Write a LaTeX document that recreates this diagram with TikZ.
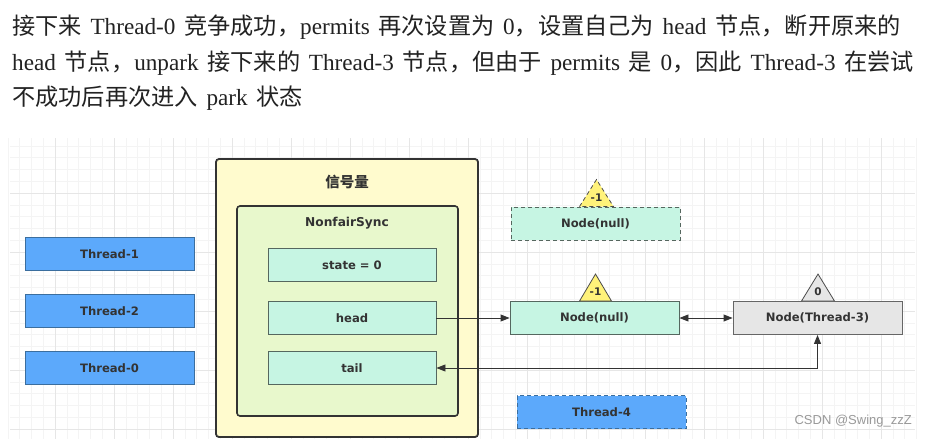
\documentclass[tikz,border=0pt]{standalone}
\usepackage{fontspec}
\setmainfont[WordSpace=1.5]{Liberation Serif}
\newfontfamily\cjk{Noto Sans CJK SC}
\newfontfamily\lab{DejaVu Sans}
\newfontfamily\wmfont{Liberation Sans}
\usetikzlibrary{arrows.meta,calc}
\definecolor{txt}{HTML}{222222}
\definecolor{lbl}{HTML}{333333}
\definecolor{thblue}{HTML}{5CA9FB}
\definecolor{thborder}{HTML}{3B6E9E}
\definecolor{mint}{HTML}{C6F5E3}
\definecolor{mintborder}{HTML}{55675F}
\definecolor{outeryel}{HTML}{FFFBCE}
\definecolor{innergrn}{HTML}{E8F8CC}
\definecolor{graynode}{HTML}{E6E6E6}
\definecolor{triyel}{HTML}{FFF27A}
\definecolor{gridmin}{HTML}{F4F4F4}
\definecolor{gridmaj}{HTML}{E6E6E6}
\tikzset{
  headtxt/.style={anchor=west, inner sep=0pt, text=txt, font=\fontsize{23.2}{23.2}\selectfont},
  thbox/.style={draw=thborder, line width=0.9pt, fill=thblue, minimum width=169pt, minimum height=33pt, inner sep=0pt, font=\lab\bfseries\fontsize{11.6}{11.6}\selectfont, text=lbl},
  mintbox/.style={draw=mintborder, line width=0.9pt, fill=mint, minimum width=169pt, minimum height=33pt, inner sep=0pt, font=\lab\bfseries\fontsize{11.6}{11.6}\selectfont, text=lbl},
  fieldbox/.style={mintbox, minimum width=168pt, minimum height=33pt},
  graybox/.style={mintbox, draw=black!60, fill=graynode},
  dashbox/.style={dashed, dash pattern=on 4pt off 3pt},
  tri/.style={draw=black!70, line width=0.8pt, fill=triyel},
  trilbl/.style={font=\lab\bfseries\fontsize{10.5}{10.5}\selectfont, text=lbl, inner sep=0pt},
  conn/.style={draw=lbl, line width=0.9pt},
  tip/.style={-{Triangle[length=9pt,width=7pt]}},
  tips/.style={{Triangle[length=9pt,width=7pt]}-{Triangle[length=9pt,width=7pt]}}
}
\begin{document}
\begin{tikzpicture}[x=1pt,y=-1pt]
\useasboundingbox[fill=white] (0,0) rectangle (928,439);
% grid
\foreach \gx in {0,...,77} {
  \pgfmathsetmacro{\xx}{7.8+11.8*\gx}
  \draw[gridmin, line width=0.6pt] (\xx,138) -- (\xx,439);
}
\foreach \gy in {0,...,25} {
  \pgfmathsetmacro{\yy}{145.8+11.8*\gy}
  \draw[gridmin, line width=0.6pt] (10,\yy) -- (915,\yy);
}
\foreach \gx in {0,...,14} {
  \pgfmathsetmacro{\xx}{55+59*\gx}
  \draw[gridmaj, line width=0.7pt] (\xx,138) -- (\xx,439);
}
\foreach \gy in {0,...,4} {
  \pgfmathsetmacro{\yy}{193+59*\gy}
  \draw[gridmaj, line width=0.7pt] (10,\yy) -- (915,\yy);
}
% header text
\node[headtxt] (l1) at (12,27) {{\cjk 接下来} Thread-0 {\cjk 竞争成功，}permits {\cjk 再次设置为} 0{\cjk ，设置自己为} head {\cjk 节点，断开原来的}};
\node[headtxt] (l2) at (12,63) {head {\cjk 节点，}unpark {\cjk 接下来的} Thread-3 {\cjk 节点，但由于} permits {\cjk 是} 0{\cjk ，因此} Thread-3 {\cjk 在尝试}};
\node[headtxt] (l3) at (12,98) {{\cjk 不成功后再次进入} park {\cjk 状态}};
% semaphore container
\draw[draw=lbl, line width=1.8pt, fill=outeryel, rounded corners=3pt] (216,159) rectangle (478,437);
\node[font=\cjk\bfseries\fontsize{14.5}{14.5}\selectfont, text=lbl] (sem) at (347,182) {信号量};
\draw[draw=lbl, line width=1.6pt, fill=innergrn, rounded corners=3pt] (237,206) rectangle (458,416);
\node[font=\lab\bfseries\fontsize{12.2}{12.2}\selectfont, text=lbl] (nfs) at (347,223) {NonfairSync};
\node[fieldbox] (state) at (352,265) {state = 0};
\node[fieldbox] (head) at (352,318) {head};
\node[fieldbox] (tail) at (352,368) {tail};
% threads
\node[thbox] (t1) at (109.5,254) {Thread-1};
\node[thbox] (t2) at (109.5,311) {Thread-2};
\node[thbox] (t0) at (109.5,368) {Thread-0};
\node[thbox, dashbox] (t4) at (601.5,412) {Thread-4};
% nodes
\node[mintbox, dashbox] (oldn) at (595.5,223.5) {Node(null)};
\node[mintbox] (nn) at (594.5,318) {Node(null)};
\node[graybox] (n3) at (817.5,318) {Node(Thread-3)};
% triangles
\draw[tri, dashbox] ([xshift=-16pt]oldn.north) -- ([xshift=1pt,yshift=27pt]oldn.north) -- ([xshift=18pt]oldn.north) -- cycle;
\node[trilbl] (oldw) at ([xshift=1pt,yshift=9pt]oldn.north) {-1};
\draw[tri] ([xshift=-15pt]nn.north) -- ([xshift=1pt,yshift=27pt]nn.north) -- ([xshift=17pt]nn.north) -- cycle;
\node[trilbl] (nnw) at ([xshift=1pt,yshift=9pt]nn.north) {-1};
\draw[tri, fill=graynode] ([xshift=-16pt]n3.north) -- ([xshift=0.5pt,yshift=27pt]n3.north) -- ([xshift=17pt]n3.north) -- cycle;
\node[trilbl] (n3w) at ([xshift=0.5pt,yshift=9pt]n3.north) {0};
% connectors
\draw[conn, tip] (head.east) -- (nn.west);
\draw[conn, tips] (nn.east) -- (n3.west);
\draw[conn, tips] (tail.east) -- (tail.east -| n3.south) -- (n3.south);
% watermark
\node[font=\wmfont\fontsize{13}{13}\selectfont, text=black!40, anchor=east, inner sep=0pt] (wm) at (912,421) {CSDN @Swing\_zzZ};
\end{tikzpicture}
\end{document}
